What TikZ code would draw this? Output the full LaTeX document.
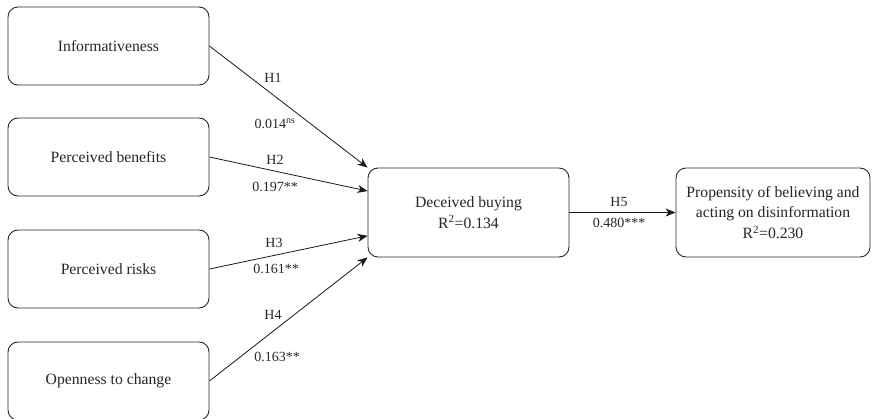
\documentclass[tikz,border=0pt]{standalone}
\usepackage{fontspec}
\setmainfont{Liberation Serif}
\usetikzlibrary{positioning,calc}
\usetikzlibrary{arrows.meta}
\definecolor{LineGray}{RGB}{40,40,40}
\tikzset{
	construct/.style={draw=LineGray,line width=0.9pt,rounded corners=10pt,fill=white,
		minimum width=201pt,minimum height=78pt,align=center,
		font=\fontsize{15.7}{20.5}\selectfont,text=black!85},
	path/.style={draw=black!90,line width=0.8pt,-{Stealth[length=10pt,width=8pt,inset=3pt]}},
	lbl/.style={font=\fontsize{14}{16}\selectfont,text=black!85,inner sep=1pt},
}

\begin{document}
\begin{tikzpicture}[x=1pt,y=-1pt]
					\useasboundingbox (0,0) rectangle (872,419);
					\node[construct] (inf) at (108.5,46) {Informativeness};
					\node[construct] (ben) at (108.5,157) {Perceived benefits};
					\node[construct] (risk) at (108.5,269) {Perceived risks};
					\node[construct] (open) at (108.5,381) {Openness to change};
					\node[construct,minimum height=89pt] (buy) at (468.5,212.5) {Deceived buying\\R\textsuperscript{2}=0.134};
					\node[construct,minimum width=194pt,minimum height=89pt] (prop) at (773,212.5)
						{Propensity of believing and\\acting on disinformation\\R\textsuperscript{2}=0.230};
					\foreach \x/\y in {inf/buy.north west,ben/buy.168,risk/buy.193,open/buy.south west}
					\draw[path] (\x.east)--(\y);
					\draw[path] (buy)--(prop);
					\foreach \n/\x/\y/\t in {h1/273/78/H1,b1/275/124/0.014\textsuperscript{ns},
						h2/275/160/H2,b2/275/187/0.197**,h3/274/243/H3,b3/276/269/0.161**,
						h4/273/315/H4,b4/277/357/0.163**,h5/619/202/H5,b5/619/223/0.480***}
					\node[lbl] (\n) at (\x,\y) {\t};
				\end{tikzpicture}
\end{document}
